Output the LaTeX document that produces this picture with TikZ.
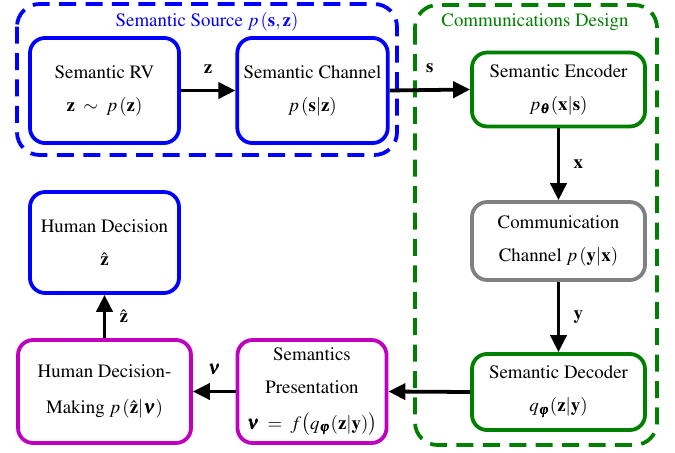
\documentclass[tikz,border=0pt]{standalone}
\usepackage[T1]{fontenc}
\usepackage{mathptmx}
\usepackage{bm}
\usetikzlibrary{positioning, arrows.meta}
\definecolor{srcblue}{RGB}{0,0,255}
\definecolor{desgreen}{RGB}{0,128,0}
\definecolor{humpurple}{RGB}{191,0,191}
\definecolor{chgray}{RGB}{128,128,128}

\begin{document}
\begin{tikzpicture}[x=0.53pt, y=-0.53pt,
	blk/.style={draw, rounded corners=8pt, line width=2pt, fill=white, align=center, font={\baselineskip=17.5pt}},
	grp/.style={rounded corners=12pt, line width=2pt, dash pattern=on 9pt off 5pt},
	flow/.style={line width=2pt, -{Triangle[length=9pt, width=8.5pt]}},
	lbl/.style={inner sep=1pt}]
		\useasboundingbox (0,0) rectangle (675,453);
		% groups
		\draw[grp, srcblue] (17,4) rectangle (397,155);
		\node[srcblue] (srclbl) at (207,22) {Semantic Source $p\,(\mathbf{s},\mathbf{z})$};
		\draw[grp, desgreen] (415,5) rectangle (657,445);
		\node[desgreen] (deslbl) at (535,22) {Communications Design};
		% blocks
		\node[blk, draw=srcblue, minimum width=79pt, minimum height=55.7pt] (rv) at (104.5,90.5) {Semantic RV\\ $\mathbf{z}\;\sim\;p\,(\mathbf{z})$};
		\node[blk, draw=srcblue, minimum width=79pt, minimum height=55.7pt] (ch) at (312.5,90.5) {Semantic Channel\\ $p\,(\mathbf{s}|\mathbf{z})$};
		\node[blk, draw=desgreen, minimum width=91.7pt, minimum height=39.2pt] (enc) at (558.5,89.5) {Semantic Encoder\\ $p_{\bm\theta}(\mathbf{x}|\mathbf{s})$};
		\node[blk, draw=chgray, minimum width=91.7pt, minimum height=41.3pt] (cch) at (558.5,241) {Communication\\ Channel $p\,(\mathbf{y}|\mathbf{x})$};
		\node[blk, draw=desgreen, minimum width=91.7pt, minimum height=40.3pt] (dec) at (558.5,392) {Semantic Decoder\\ $q_{\bm\varphi}(\mathbf{z}|\mathbf{y})$};
		\node[blk, draw=humpurple, minimum width=79pt, minimum height=54.6pt] (pres) at (312,391.5) {Semantics\\ Presentation\\[1.5pt] $\bm\nu \;=\; f\big(q_{\bm\varphi}(\mathbf{z}|\mathbf{y})\big)$};
		\node[blk, draw=humpurple, minimum width=91.7pt, minimum height=54.6pt] (hdm) at (104.5,391.5) {Human Decision-\\[2pt] Making $p\,(\hat{\mathbf{z}}|\bm\nu)$};
		\node[blk, draw=srcblue, minimum width=79pt, minimum height=53.5pt] (hd) at (104.5,242.5) {Human Decision\\ $\hat{\mathbf{z}}$};
		% flows
		\draw[flow] (rv) -- node[lbl, above=7pt] {$\mathbf{z}$} (ch);
		\draw[flow] (ch.east) -- node[lbl, above=7pt] {$\mathbf{s}$} (enc.west);
		\draw[flow] (enc) -- node[lbl, right=6pt] {$\mathbf{x}$} (cch);
		\draw[flow] (cch) -- node[lbl, right=6pt] {$\mathbf{y}$} (dec);
		\draw[flow] (dec.west) -- (pres.east);
		\draw[flow] (pres) -- node[lbl, above=7pt] {$\bm\nu$} (hdm);
		\draw[flow] (hdm) -- node[lbl, right=6pt] {$\hat{\mathbf{z}}$} (hd);
	\end{tikzpicture}
\end{document}
